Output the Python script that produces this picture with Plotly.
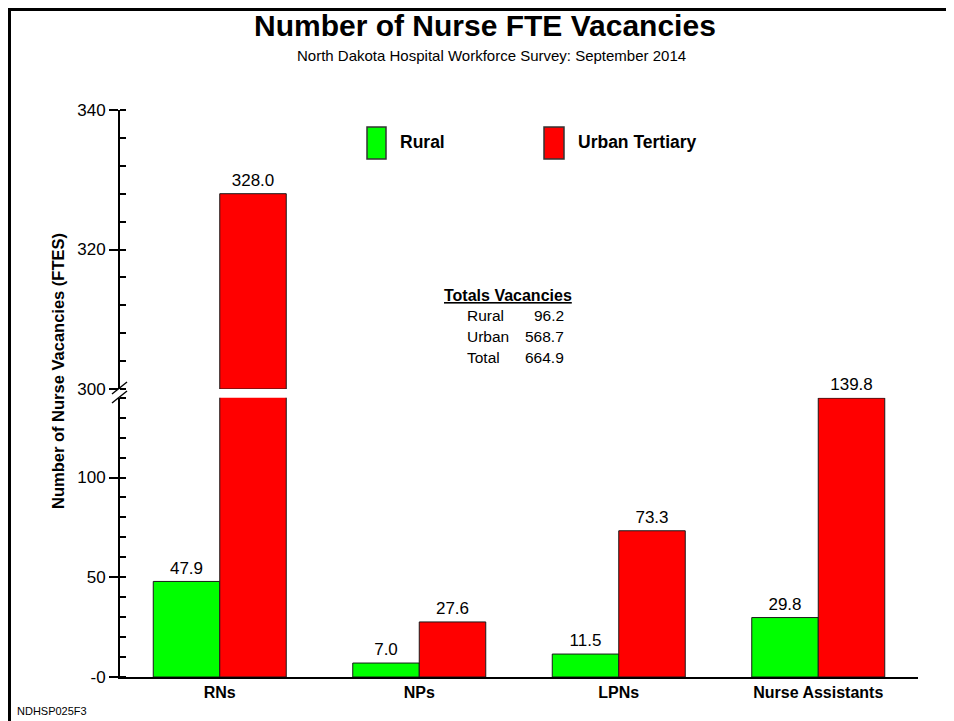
import plotly.graph_objects as go

# ---------------- data ----------------
categories = ["RNs", "NPs", "LPNs", "Nurse Assistants"]
rural = [47.9, 7.0, 11.5, 29.8]
urban = [328.0, 27.6, 73.3, 139.8]
series_names = ["Rural", "Urban Tertiary"]
lower_ticks = [0, 50, 100]
lower_ticktext = ["-0", "50", "100"]
upper_ticks = [300, 320, 340]
upper_ticktext = ["300", "320", "340"]
totals_labels = ["Rural", "Urban", "Total"]
totals_values = ["96.2", "568.7", "664.9"]

# ---------------- styles ----------------
GREEN = "#00FF00"
RED = "#FF0000"
FONT = "Liberation Sans, Arial, Helvetica, sans-serif"
LOWER_MAX = 140
UPPER_MIN, UPPER_MAX = 300, 340
BAR_W = 1 / 3

# page layout (page pixels); the html body adds an 8px offset
PAGE_W, PAGE_H = 954, 721
OFF = 8
L, R, T, B = 120, 918, 110, 677
W, H = R - L, B - T


def px(x):
    return (x - L) / W


def py(y):
    return (B - y) / H


lower_dom = [0, py(397.7)]
upper_dom = [py(389), 1]

idx = list(range(len(categories)))
x_rural = [i - BAR_W / 2 for i in idx]
x_urban = [i + BAR_W / 2 for i in idx]

fig = go.Figure()
bar_line = dict(color="#1a1a1a", width=1)

fig.add_trace(go.Bar(x=x_rural, y=rural, width=BAR_W, marker=dict(color=GREEN, line=bar_line),
                     xaxis="x", yaxis="y", name=series_names[0], showlegend=False, hoverinfo="skip"))
fig.add_trace(go.Bar(x=x_urban, y=urban, width=BAR_W, marker=dict(color=RED, line=bar_line),
                     xaxis="x", yaxis="y", name=series_names[1], showlegend=False, hoverinfo="skip"))

# upper segment (values above the break)
up_x = [x for x, v in zip(x_urban, urban) if v > UPPER_MIN]
up_v = [v for v in urban if v > UPPER_MIN]
fig.add_trace(go.Bar(x=up_x, y=[v - UPPER_MIN for v in up_v], base=UPPER_MIN, width=BAR_W,
                     marker=dict(color=RED, line=bar_line), xaxis="x", yaxis="y2",
                     showlegend=False, hoverinfo="skip"))

# value labels
lab_font = dict(family=FONT, size=17, color="black")
ghost = dict(size=4, color="rgba(0,0,0,0)")
lx, ly, lt = [], [], []
for xs, vals in ((x_rural, rural), (x_urban, urban)):
    for x, v in zip(xs, vals):
        if v <= LOWER_MAX:
            lx.append(x); ly.append(v); lt.append(f"{v:.1f}")
fig.add_trace(go.Scatter(x=lx, y=ly, text=lt, mode="markers+text", marker=ghost, textposition="top center",
                         textfont=lab_font, cliponaxis=False, xaxis="x", yaxis="y",
                         showlegend=False, hoverinfo="skip"))
fig.add_trace(go.Scatter(x=up_x, y=up_v, text=[f"{v:.1f}" for v in up_v], mode="markers+text", marker=ghost,
                         textposition="top center", textfont=lab_font, cliponaxis=False,
                         xaxis="x", yaxis="y2", showlegend=False, hoverinfo="skip"))

tickfont = dict(family=FONT, size=17, color="black")
fig.update_layout(
    width=PAGE_W - OFF, height=PAGE_H - OFF,
    margin=dict(l=L - OFF, r=PAGE_W - R, t=T - OFF, b=PAGE_H - B),
    paper_bgcolor="white", plot_bgcolor="white",
    barmode="overlay",
    font=dict(family=FONT, color="black"),
    xaxis=dict(range=[-0.5, len(categories) - 0.5], tickvals=idx, ticktext=categories,
               tickfont=dict(family=FONT, size=16, color="black", weight="bold"),
               showline=True, linewidth=2, linecolor="black", ticks="", showgrid=False,
               zeroline=False, anchor="y"),
    yaxis=dict(domain=lower_dom, range=[0, LOWER_MAX], tickvals=lower_ticks, ticktext=lower_ticktext,
               showline=True, linewidth=2, linecolor="black", ticks="outside", ticklen=9, tickwidth=2,
               tickcolor="black", tickfont=tickfont, showgrid=False, zeroline=False, anchor="x",
               minor=dict(dtick=10, tick0=0, ticks="inside", ticklen=6, tickwidth=1.5, tickcolor="black")),
    yaxis2=dict(domain=upper_dom, range=[UPPER_MIN, UPPER_MAX], tickvals=upper_ticks, ticktext=upper_ticktext,
                showline=True, linewidth=2, linecolor="black", ticks="outside", ticklen=9, tickwidth=2,
                tickcolor="black", tickfont=tickfont, showgrid=False, zeroline=False, anchor="x",
                minor=dict(dtick=4, tick0=UPPER_MIN, ticks="inside", ticklen=6, tickwidth=1.5,
                           tickcolor="black")),
)

ann = []
ann.append(dict(text="<b>Number of Nurse FTE Vacancies</b>", x=px(484.5), y=py(25.5), xref="paper", yref="paper",
                xanchor="center", yanchor="middle", showarrow=False, font=dict(family=FONT, size=30)))
ann.append(dict(text="North Dakota Hospital Workforce Survey: September 2014", x=px(491), y=py(56),
                xref="paper", yref="paper", xanchor="center", yanchor="middle", showarrow=False,
                font=dict(family=FONT, size=15)))
ann.append(dict(text="<b>Number of Nurse Vacancies (FTES)</b>", x=px(58), y=py(371), xref="paper",
                yref="paper", xanchor="center", yanchor="middle", textangle=-90, showarrow=False,
                font=dict(family=FONT, size=16.5)))
ann.append(dict(text="NDHSP025F3", x=px(15), y=py(711), xref="paper", yref="paper", xanchor="left",
                yanchor="middle", showarrow=False, font=dict(family=FONT, size=11)))
# legend text
ann.append(dict(text=f"<b>{series_names[0]}</b>", x=px(398), y=py(142), xref="paper", yref="paper",
                xanchor="left", yanchor="middle", showarrow=False, font=dict(family=FONT, size=17.5)))
ann.append(dict(text=f"<b>{series_names[1]}</b>", x=px(576), y=py(142), xref="paper", yref="paper",
                xanchor="left", yanchor="middle", showarrow=False, font=dict(family=FONT, size=17.5)))
# totals block
ann.append(dict(text="<b><u>Totals Vacancies</u></b>", x=px(508), y=py(295), xref="paper", yref="paper",
                xanchor="center", yanchor="middle", showarrow=False, font=dict(family=FONT, size=16)))
for i, (lab, val) in enumerate(zip(totals_labels, totals_values)):
    yy = py(315.5 + i * 21)
    ann.append(dict(text=lab, x=px(465), y=yy, xref="paper", yref="paper", xanchor="left",
                    yanchor="middle", showarrow=False, font=dict(family=FONT, size=15.5)))
    ann.append(dict(text=val, x=px(566), y=yy, xref="paper", yref="paper", xanchor="right",
                    yanchor="middle", showarrow=False, font=dict(family=FONT, size=15.5)))
fig.update_layout(annotations=ann)

shapes = []
# legend boxes
for (x0, x1), col in (((367, 386), GREEN), ((544, 564), RED)):
    shapes.append(dict(type="rect", xref="paper", yref="paper", x0=px(x0), x1=px(x1), y0=py(159), y1=py(127),
                       fillcolor=col, line=dict(color="#333", width=1.5)))
# axis break slashes
for y0, y1 in ((394, 382), (403, 391)):
    shapes.append(dict(type="line", xref="paper", yref="paper", x0=px(112), x1=px(127), y0=py(y0), y1=py(y1),
                       line=dict(color="black", width=1.5)))
# frame
shapes.append(dict(type="line", xref="paper", yref="paper", x0=px(8), x1=px(970), y0=py(9.5), y1=py(9.5),
                   line=dict(color="black", width=3)))
shapes.append(dict(type="line", xref="paper", yref="paper", x0=px(9.5), x1=px(9.5), y0=py(8), y1=py(740),
                   line=dict(color="black", width=3)))
fig.update_layout(shapes=shapes)

fig.write_html("out.html")
